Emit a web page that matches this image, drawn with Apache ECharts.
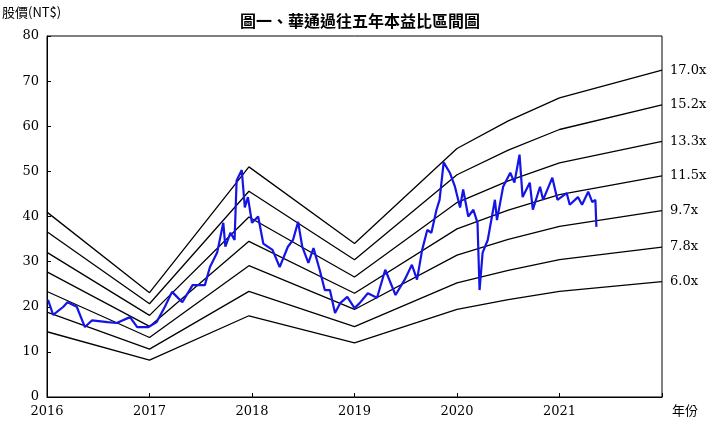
<!DOCTYPE html>
<html><head><meta charset="utf-8">
<script src="https://cdn.jsdelivr.net/npm/echarts@6/dist/echarts.min.js"></script>
<style>html,body{margin:0;padding:0;background:#fff}#c{width:720px;height:438px}</style>
</head><body><div id="c"></div>
<script>
const multiples = [6.0, 7.8, 9.7, 11.5, 13.3, 15.2, 17.0];
const epsTimes = [2016.0, 2017.0, 2017.97, 2019.0, 2020.0, 2020.5, 2021.0, 2022.0];
const epsValues = [2.41, 1.36, 3.0, 2.0, 3.24, 3.6, 3.9, 4.26];
const yearTicks = [2016, 2017, 2018, 2019, 2020, 2021];
const priceTimes = [2016.01,2016.06,2016.16,2016.2,2016.29,2016.37,2016.44,2016.59,2016.68,2016.81,2016.88,2016.99,2017.07,2017.15,2017.22,2017.32,2017.42,2017.54,2017.59,2017.66,2017.72,2017.74,2017.79,2017.83,2017.85,2017.9,2017.93,2017.96,2018.0,2018.06,2018.11,2018.2,2018.27,2018.35,2018.4,2018.45,2018.49,2018.55,2018.6,2018.66,2018.71,2018.76,2018.81,2018.86,2018.93,2019.0,2019.05,2019.13,2019.22,2019.3,2019.4,2019.49,2019.56,2019.61,2019.66,2019.71,2019.75,2019.8,2019.83,2019.87,2019.93,2019.98,2020.03,2020.06,2020.11,2020.16,2020.2,2020.22,2020.25,2020.3,2020.37,2020.39,2020.45,2020.52,2020.56,2020.61,2020.64,2020.71,2020.74,2020.81,2020.84,2020.93,2020.98,2021.07,2021.1,2021.18,2021.22,2021.28,2021.32,2021.35,2021.36];
const priceValues = [21.5,18.2,20,21,20,15.5,17,16.6,16.4,17.7,15.5,15.5,16.6,20,23.3,21,24.8,24.8,28.8,32,38.6,33.3,36.4,34.8,48,50.3,42,44.3,38.6,40,34,32.6,28.8,33.3,34.8,38.8,33.3,29.7,33,28.2,23.7,23.7,18.6,20.8,22.2,19.7,20.8,23,22,28.2,22.6,26,29.3,26,32.6,37,36.4,41.5,43.7,52,49.7,46.6,42,46,40,41.5,38.6,23.7,32,34.8,43.7,39.2,46.6,49.7,47.5,53.7,44.3,47.5,41.5,46.6,43.7,48.6,43.7,45.2,42.6,44.3,42.6,45.5,43.2,43.7,37.7];

const serif = '"DejaVu Serif","Noto Sans CJK TC",serif';
const series = multiples.map(m => ({
  type: 'line', showSymbol: false, silent: true,
  data: epsTimes.map((t, i) => [t, +(epsValues[i] * m).toFixed(2)]),
  lineStyle: { color: '#000', width: 1.3 },
  endLabel: { show: true, formatter: m.toFixed(1) + 'x', color: '#000', fontFamily: serif, fontSize: 13, distance: 8 }
}));
series.push({
  type: 'line', showSymbol: false, silent: true,
  data: priceTimes.map((t, i) => [t, priceValues[i]]),
  lineStyle: { color: '#1414e6', width: 2.2 }
});
const chart = echarts.init(document.getElementById('c'));
chart.setOption({
  animation: false,
  title: { text: '圖一、華通過往五年本益比區間圖', left: 'center', top: 8,
    textStyle: { fontFamily: '"Noto Sans CJK TC"', fontSize: 16, fontWeight: 'bold', color: '#000' } },
  grid: { left: 47, right: 58, top: 36, bottom: 41, show: true, borderColor: '#000', borderWidth: 1 },
  xAxis: { type: 'value', min: 2016, max: 2022, interval: 1,
    axisLine: { lineStyle: { color: '#000' } }, splitLine: { show: false },
    axisTick: { inside: true, length: 4, lineStyle: { color: '#000' } },
    axisLabel: { color: '#000', fontFamily: serif, fontSize: 13,
      formatter: v => yearTicks.includes(v) ? String(v) : '' } },
  yAxis: { type: 'value', min: 0, max: 80, interval: 10,
    axisLine: { show: true, lineStyle: { color: '#000' } }, splitLine: { show: false },
    axisTick: { show: true, inside: true, length: 4, lineStyle: { color: '#000' } },
    axisLabel: { color: '#000', fontFamily: serif, fontSize: 13 } },
  graphic: [
    { type: 'text', left: 2, top: 6, style: { text: '股價(NT$)', font: '13px "Noto Sans CJK TC"', fill: '#000' } },
    { type: 'text', left: 672, top: 404, style: { text: '年份', font: '13px "Noto Sans CJK TC"', fill: '#000' } }
  ],
  series
});
</script></body></html>
